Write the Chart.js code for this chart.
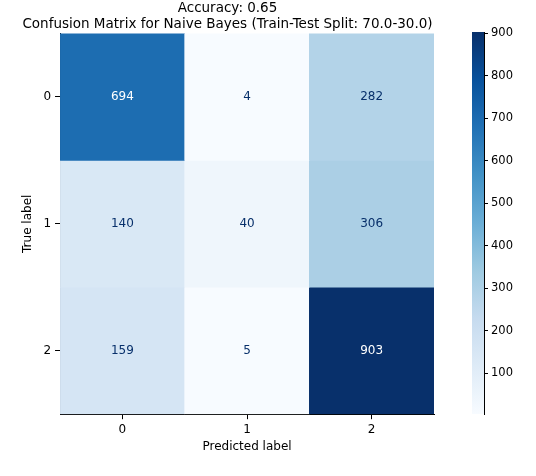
<!DOCTYPE html>
<html lang="en">
<head>
<meta charset="UTF-8">
<title>Confusion Matrix</title>
<script src="https://cdn.jsdelivr.net/npm/chart.js@4.4.0/dist/chart.umd.min.js"></script>
<style>
  body { margin: 0; background: #fff; }
  #wrap { position: relative; width: 536px; height: 476px; }
  canvas { position: absolute; top: 0; }
</style>
</head>
<body>
<div id="wrap">
  <canvas id="cm" width="536" height="476" style="left:0"></canvas>
  <canvas id="cbar" width="96" height="476" style="left:440px"></canvas>
</div>
<script>
// data
var predLabels = ['0', '1', '2'];
var trueLabels = ['0', '1', '2'];
var row0 = [694, 4, 282];
var row1 = [140, 40, 306];
var row2 = [159, 5, 903];
var matrix = [row0, row1, row2];
var cbarTicks = [100, 200, 300, 400, 500, 600, 700, 800, 900];

var all = row0.concat(row1, row2);
var vmin = Math.min.apply(null, all), vmax = Math.max.apply(null, all);

// matplotlib Blues stops
var blues = ['#f7fbff','#deebf7','#c6dbef','#9ecae1','#6baed6','#4292c6','#2171b5','#08519c','#08306b'];
function hex(h) { return [1,3,5].map(i => parseInt(h.substr(i,2),16)); }
function bluesAt(t) {
  t = Math.max(0, Math.min(1, t)) * (blues.length - 1);
  var i = Math.min(Math.floor(t), blues.length - 2), f = t - i;
  var a = hex(blues[i]), b = hex(blues[i+1]);
  return 'rgb(' + a.map((v, k) => Math.round(v + (b[k]-v)*f)).join(',') + ')';
}
function norm(v) { return (v - vmin) / (vmax - vmin); }

Chart.defaults.font.family = 'DejaVu Sans';
Chart.defaults.font.size = 12;
Chart.defaults.color = '#000';

var datasets = matrix.map(function (row, r) {
  return {
    label: 'true ' + trueLabels[r],
    data: row.map(() => [r - 0.5, r + 0.5]),
    backgroundColor: row.map(v => bluesAt(norm(v))),
    borderWidth: 0,
    barPercentage: 1,
    categoryPercentage: 1,
    grouped: false
  };
});

var cellText = {
  id: 'cellText',
  afterDatasetsDraw: function (chart) {
    var ctx = chart.ctx, xs = chart.scales.x, ys = chart.scales.y;
    ctx.save();
    ctx.font = '12px DejaVu Sans';
    ctx.textAlign = 'center';
    ctx.textBaseline = 'middle';
    matrix.forEach(function (row, r) {
      row.forEach(function (v, c) {
        ctx.fillStyle = v > (vmin + vmax) / 2 ? '#ffffff' : '#08306b';
        ctx.fillText(String(v), xs.getPixelForValue(c), ys.getPixelForValue(r));
      });
    });
    ctx.restore();
  }
};

new Chart(document.getElementById('cm'), {
  type: 'bar',
  data: { labels: predLabels, datasets: datasets },
  options: {
    responsive: false,
    animation: false,
    layout: { padding: { left: 21, right: 102, top: 0, bottom: 22 } },
    plugins: {
      legend: { display: false },
      tooltip: { enabled: false },
      title: {
        display: true,
        text: ['Accuracy: 0.65', 'Confusion Matrix for Naive Bayes (Train-Test Split: 70.0-30.0)'],
        font: { size: 13.5, weight: 'normal' },
        padding: { top: 0, bottom: 1 },
        lineHeight: 1.15
      }
    },
    scales: {
      x: {
        grid: { display: true, offset: false, drawOnChartArea: false, tickLength: 5, color: '#000' },
        border: { display: true, color: '#000' },
        ticks: { padding: 3 },
        title: { display: true, text: 'Predicted label', padding: { top: 0, bottom: 0 } }
      },
      y: {
        type: 'linear',
        reverse: true,
        min: -0.5,
        max: 2.5,
        afterBuildTicks: function (s) { s.ticks = trueLabels.map((l, i) => ({ value: i })); },
        ticks: { callback: (v) => trueLabels[v], padding: 4 },
        grid: { display: true, drawOnChartArea: false, tickLength: 5, color: '#000' },
        border: { display: true, color: '#000' },
        title: { display: true, text: 'True label', padding: { top: 0, bottom: 4 } }
      }
    }
  },
  plugins: [cellText]
});

// colorbar
new Chart(document.getElementById('cbar'), {
  type: 'bar',
  data: {
    labels: [''],
    datasets: [{
      data: [[vmin, vmax]],
      barPercentage: 1,
      categoryPercentage: 1,
      borderWidth: 0,
      backgroundColor: function (c) {
        var a = c.chart.chartArea;
        if (!a) return blues[4];
        var g = c.chart.ctx.createLinearGradient(0, a.bottom, 0, a.top);
        blues.forEach((col, i) => g.addColorStop(i / (blues.length - 1), col));
        return g;
      }
    }]
  },
  options: {
    responsive: false,
    animation: false,
    layout: { padding: { left: 32, top: 32, bottom: 62, right: 12 } },
    plugins: { legend: { display: false }, tooltip: { enabled: false } },
    scales: {
      x: { display: false },
      y: {
        position: 'right',
        min: vmin,
        max: vmax,
        afterBuildTicks: function (s) { s.ticks = cbarTicks.map(v => ({ value: v })); },
        afterFit: function (s) { s.width = 40; },
        grid: { display: true, drawOnChartArea: false, tickLength: 4, color: '#000' },
        border: { display: true, color: '#000' },
        ticks: { padding: 3, font: { size: 11.5 } }
      }
    }
  }
});
</script>
</body>
</html>
